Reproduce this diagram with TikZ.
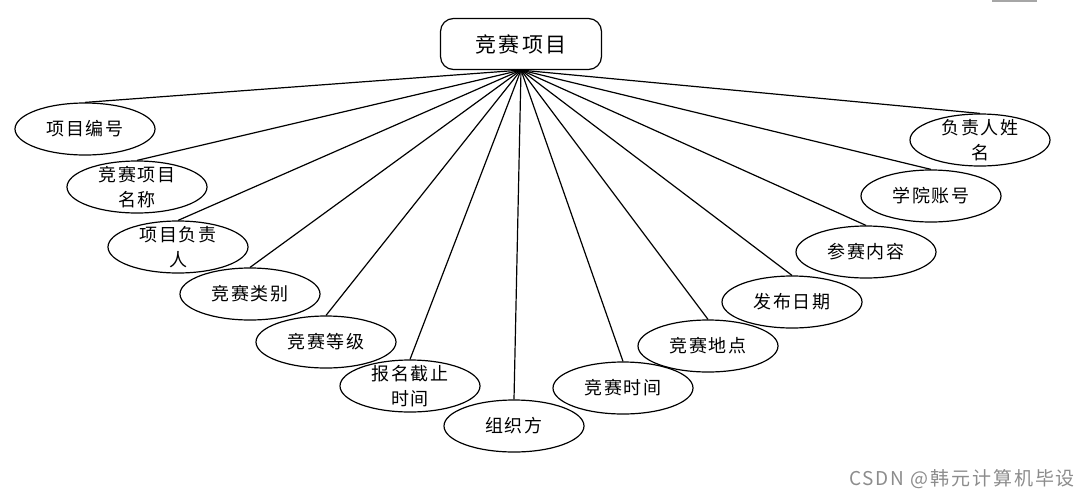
\documentclass[tikz,border=0pt]{standalone}
\usepackage{fontspec}
\setmainfont{Noto Sans CJK SC}[LetterSpace=10]
\usetikzlibrary{shapes.geometric}
\begin{document}
\begin{tikzpicture}[x=1pt,y=-1pt,
    ent/.style={draw,rounded corners=13pt,line width=1.2pt,minimum width=161pt,minimum height=51pt,font=\fontsize{21}{26}\selectfont},
    attr/.style={draw,ellipse,line width=1.2pt,minimum width=140pt,minimum height=52pt,inner sep=0pt},
    lbl/.style={align=center,inner sep=0pt,font=\fontsize{18}{25}\selectfont},
    link/.style={line width=1.2pt}]
    \useasboundingbox (0,0) rectangle (1083,498);
    \node[ent] (jsxm) at (521,44) {竞赛项目};
    % attributes, left to right
    \node[attr,label={[lbl]center:项目编号}] (bh) at (85,129) {};
    \node[attr,label={[lbl]center:{竞赛项目\\名称}}] (mc) at (137,187) {};
    \node[attr,label={[lbl]center:{项目负责\\人}}] (fzr) at (178,247) {};
    \node[attr,label={[lbl]center:竞赛类别}] (lb) at (250,294) {};
    \node[attr,label={[lbl]center:竞赛等级}] (dj) at (326,342) {};
    \node[attr,label={[lbl]center:{报名截止\\时间}}] (jz) at (410,386) {};
    \node[attr,label={[lbl]center:组织方}] (zzf) at (514,426) {};
    \node[attr,label={[lbl]center:竞赛时间}] (sj) at (623,388) {};
    \node[attr,label={[lbl]center:竞赛地点}] (dd) at (708,346) {};
    \node[attr,label={[lbl]center:发布日期}] (rq) at (792,302) {};
    \node[attr,label={[lbl]center:参赛内容}] (nr) at (866,252) {};
    \node[attr,label={[lbl]center:学院账号}] (zh) at (931,196) {};
    \node[attr,label={[lbl]center:{负责人姓\\名}}] (xmg) at (980,140) {};
    \foreach \n in {bh,mc,fzr,lb,dj,jz,zzf,sj,dd,rq,nr,zh,xmg}
        \draw[link] (jsxm.south) -- (\n.north);
    \draw[black!35,line width=1.5pt] (992,0.75) -- (1037,0.75);
    \node[text=black!45,font=\fontsize{19}{24}\selectfont] (wm) at (962,479) {CSDN @韩元计算机毕设};
\end{tikzpicture}
\end{document}
